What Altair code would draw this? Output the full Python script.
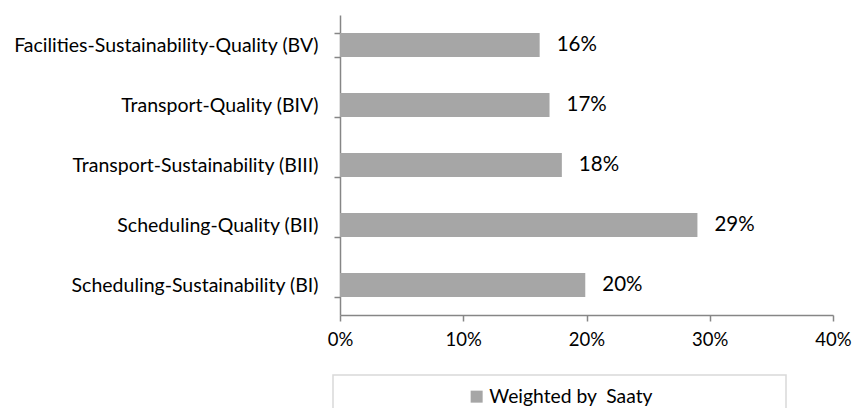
import altair as alt
import pandas as pd

categories = [
    "Facilities-Sustainability-Quality (BV)",
    "Transport-Quality (BIV)",
    "Transport-Sustainability (BIII)",
    "Scheduling-Quality (BII)",
    "Scheduling-Sustainability (BI)",
]
values = [0.162, 0.170, 0.180, 0.290, 0.199]
series_name = "Weighted by\u00a0 Saaty"
x_ticks = [0, 0.1, 0.2, 0.3, 0.4]

df = pd.DataFrame({"category": categories, "value": values, "series": [series_name] * len(categories)})

FONT = "Lato"
BAR = "#a6a6a6"
AXIS = "#868686"

y_enc = alt.Y(
    "category:N",
    sort=categories,
    scale=alt.Scale(paddingInner=0.6, paddingOuter=0.3),
    axis=alt.Axis(
        title=None,
        domainColor=AXIS,
        domainWidth=1.5,
        tickColor=AXIS,
        tickWidth=1.5,
        tickSize=6,
        tickBand="extent",
        labelFont=FONT,
        labelFontSize=19.5,
        labelColor="#000000",
        labelPadding=16,
        labelLimit=400,
    ),
)
x_enc = alt.X(
    "value:Q",
    scale=alt.Scale(domain=[0, 0.4], nice=False),
    axis=alt.Axis(
        title=None,
        values=x_ticks,
        format=".0%",
        grid=False,
        domainColor=AXIS,
        domainWidth=1.5,
        tickColor=AXIS,
        tickWidth=1.5,
        tickSize=6,
        labelFont=FONT,
        labelFontSize=18.5,
        labelColor="#000000",
        labelPadding=9,
        labelFlush=False,
    ),
)

bars = alt.Chart(df).mark_bar(color=BAR).encode(
    x=x_enc,
    y=y_enc,
    color=alt.Color(
        "series:N",
        scale=alt.Scale(range=[BAR]),
        legend=alt.Legend(
            title=None,
            orient="none",
            legendX=127,
            legendY=372,
            symbolType="square",
            symbolSize=144,
            symbolStrokeWidth=0,
            labelFont=FONT,
            labelFontSize=19.3,
            labelColor="#000000",
            labelOffset=3,
            labelLimit=400,
        ),
    ),
)

labels = alt.Chart(df).mark_text(
    align="left", baseline="middle", dx=17, font=FONT, fontSize=20.5, color="#000000"
).encode(
    x="value:Q",
    y=alt.Y("category:N", sort=categories),
    text=alt.Text("value:Q", format=".0%"),
)

legend_box = alt.Chart(pd.DataFrame({"k": [0]})).mark_rect(
    fill=None, stroke="#d9d9d9", strokeWidth=1.5
).encode(
    x=alt.value(-7),
    x2=alt.value(446),
    y=alt.value(360),
    y2=alt.value(410),
)

chart = alt.layer(bars, labels, legend_box).properties(
    width=493,
    height=300,
    background="white",
    autosize=alt.AutoSizeParams(type="none"),
    padding={"left": 340, "top": 15, "right": 19, "bottom": 93},
).configure_view(stroke=None)

chart.save("out.html", embed_options={"renderer": "svg", "actions": False})
